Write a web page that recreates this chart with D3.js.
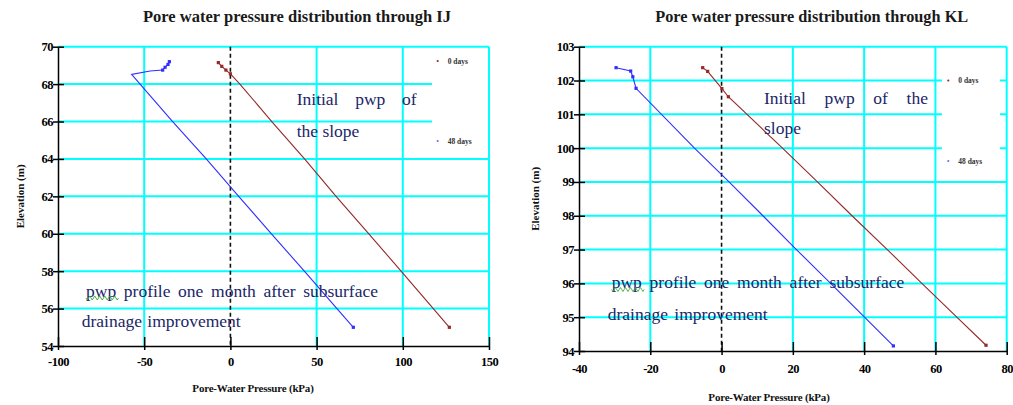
<!DOCTYPE html>
<html><head><meta charset="utf-8">
<script src="https://cdn.jsdelivr.net/npm/d3@7"></script>
<style>body{margin:0;background:#fff} svg{display:block}</style>
</head><body>
<svg id="c" width="1013" height="405"></svg>
<script>
// ---------------- data ----------------
const pressureIJ0 = [-7, -5, -2.6, 0, 5.5, 24, 43, 61.3, 80.3, 99, 117.7, 127];
const elevIJ0     = [69.15, 68.95, 68.75, 68.55, 68.0, 66.0, 64.0, 62.0, 60.0, 58.0, 56.0, 55.0];
const pressureIJ48 = [-35.4, -36.2, -37.9, -39.3, -46.6, -57.3, -52.4, -33.5, -14, 4.8, 23.8, 42.9, 61.8, 71.3];
const elevIJ48     = [69.2, 69.05, 68.9, 68.75, 68.7, 68.52, 68.0, 66.0, 64.0, 62.0, 60.0, 58.0, 56.0, 55.0];

const pressureKL0 = [-5.3, -3.9, 0.1, 1.9, 17.1, 26.9, 36.6, 46.5, 56.2, 66, 74.2];
const elevKL0     = [102.38, 102.27, 101.76, 101.52, 100, 99, 98, 97, 96, 95, 94.17];
const pressureKL48 = [-29.6, -25.5, -24.9, -24.0, -7.6, 2.1, 11.6, 21.0, 30.6, 40.1, 48.2];
const elevKL48     = [102.38, 102.28, 102.11, 101.77, 100, 99, 98, 97, 96, 95, 94.15];

const xTicksIJ = [-100, -50, 0, 50, 100, 150];
const yTicksIJ = [54, 56, 58, 60, 62, 64, 66, 68, 70];
const xTicksKL = [-40, -20, 0, 20, 40, 60, 80];
const yTicksKL = [94, 95, 96, 97, 98, 99, 100, 101, 102, 103];

const seriesNames = ["0 days", "48 days"];
const titles = ["Pore water pressure distribution through IJ", "Pore water pressure distribution through KL"];
const xLabel = "Pore-Water Pressure (kPa)";
const yLabel = "Elevation (m)";
const noteTopIJ = ["Initial pwp of", "the slope"];
const noteTopKL = ["Initial pwp of the", "slope"];
const noteBottom = ["pwp profile one month after subsurface", "drainage improvement"];

// ---------------- styles ----------------
const C_CYAN = "#00ffff", C_BROWN = "#962828", C_BLUE = "#2f2fff", C_NOTE = "#1b2668";
const SERIF = "'Liberation Serif','Times New Roman',serif";

const svg = d3.select("#c");

const panels = [
  { title: titles[0], titleX: 297, titleW: 308, left: 58, right: 489, top: 46.7, bottom: 346,
    xDom: [-100, 150], yDom: [54, 70], xTicks: xTicksIJ, yTicks: yTicksIJ,
    s0: [pressureIJ0, elevIJ0], s48: [pressureIJ48, elevIJ48],
    legendRect: [432, 52, 56, 98], leg0: [437.7, 61], leg48: [437.7, 141],
    yLabX: 20, xLabY: 392, xLabX: 253, tickLabY: 11,
    noteTop: noteTopIJ, noteTopX: 296.7, noteTopY: [105, 137], noteTopW: [120, null],
    noteBotX: [86, 81.7], noteBotY: [296.5, 327.3], noteBotW: [292, 159] },
  { title: titles[1], titleX: 811.7, titleW: 313, left: 579, right: 1006.7, top: 46.7, bottom: 351,
    xDom: [-40, 80], yDom: [94, 103], xTicks: xTicksKL, yTicks: yTicksKL,
    s0: [pressureKL0, elevKL0], s48: [pressureKL48, elevKL48],
    legendRect: [942, 56, 58, 120], leg0: [948.3, 80.5], leg48: [948.3, 161],
    yLabX: 535, xLabY: 400.5, xLabX: 769, tickLabY: 12.8,
    noteTop: noteTopKL, noteTopX: 764, noteTopY: [104, 134], noteTopW: [164, null],
    noteBotX: [611.7, 607.7], noteBotY: [288, 320], noteBotW: [292.6, 160] }
];

function justify(t, w) {
  if (!w) return;
  const txt = t.text();
  const n = (txt.match(/ /g) || []).length;
  const len = t.node().getComputedTextLength();
  if (n > 0 && w > len) t.attr("word-spacing", (w - len) / n);
}

panels.forEach(p => {
  const x = d3.scaleLinear().domain(p.xDom).range([p.left, p.right]);
  const y = d3.scaleLinear().domain(p.yDom).range([p.bottom, p.top]);
  const g = svg.append("g");

  // horizontal grid
  g.selectAll(".hg").data(p.yTicks.filter(v => v !== p.yDom[0])).enter().append("line")
    .attr("x1", p.left).attr("x2", p.right).attr("y1", d => y(d)).attr("y2", d => y(d))
    .attr("stroke", C_CYAN).attr("stroke-width", 2);
  // legend box (white)
  g.append("rect").attr("x", p.legendRect[0]).attr("y", p.legendRect[1])
    .attr("width", p.legendRect[2]).attr("height", p.legendRect[3]).attr("fill", "#fff");
  // vertical grid
  g.selectAll(".vg").data(p.xTicks.filter(v => v !== p.xDom[0] && v !== 0)).enter().append("line")
    .attr("x1", d => x(d)).attr("x2", d => x(d)).attr("y1", p.top).attr("y2", p.bottom)
    .attr("stroke", C_CYAN).attr("stroke-width", 2);
  // zero dashed line
  g.append("line").attr("x1", x(0)).attr("x2", x(0)).attr("y1", p.top).attr("y2", p.bottom)
    .attr("stroke", "#111").attr("stroke-width", 1.6).attr("stroke-dasharray", "4,3");

  // series
  const line = d3.line().x(d => x(d[0])).y(d => y(d[1]));
  [[p.s0, C_BROWN], [p.s48, C_BLUE]].forEach(([s, col]) => {
    const pts = s[0].map((v, i) => [v, s[1][i]]);
    g.append("path").datum(pts).attr("d", line).attr("fill", "none")
      .attr("stroke", col).attr("stroke-width", 1.1);
    const mk = pts.filter((d, i) => i < 4 || i === pts.length - 1);
    g.selectAll(null).data(mk).enter().append("rect")
      .attr("x", d => x(d[0]) - 1.6).attr("y", d => y(d[1]) - 1.6)
      .attr("width", 3.2).attr("height", 3.2).attr("fill", col);
  });

  // axes
  const ax = g.append("g").attr("transform", `translate(0,${p.bottom})`)
    .call(d3.axisBottom(x).tickValues(p.xTicks).tickFormat(d => String(d)).tickSizeInner(4).tickSizeOuter(0));
  ax.selectAll(".tick line").attr("y1", -9).attr("stroke", "#000").attr("stroke-width", 1.5);
  ax.selectAll(".tick text").attr("y", p.tickLabY).attr("font-family", SERIF).attr("font-weight", "bold")
    .attr("font-size", 12.5).attr("letter-spacing", -0.5).attr("fill", "#000");
  ax.select(".domain").attr("stroke", "#000").attr("stroke-width", 1.5);

  const ay = g.append("g").attr("transform", `translate(${p.left},0)`)
    .call(d3.axisLeft(y).tickValues(p.yTicks).tickFormat(d => String(d)).tickSizeInner(5).tickSizeOuter(0));
  ay.selectAll(".tick line").attr("x2", -5).attr("x1", 6).attr("stroke", "#000").attr("stroke-width", 1.5);
  ay.selectAll(".tick text").attr("x", -5).attr("font-family", SERIF).attr("font-weight", "bold")
    .attr("font-size", 12.5).attr("letter-spacing", -0.5).attr("fill", "#000");
  ay.select(".domain").attr("stroke", "#000").attr("stroke-width", 1.5);

  // title
  g.append("text").attr("x", p.titleX).attr("y", 21.5).attr("text-anchor", "middle")
    .attr("font-family", SERIF).attr("font-weight", "bold").attr("font-size", 16.5)
    .attr("fill", "#1a1a1a").attr("textLength", p.titleW).attr("lengthAdjust", "spacingAndGlyphs")
    .text(p.title);

  // axis titles
  g.append("text").attr("transform", `translate(${p.yLabX},${(p.top + p.bottom) / 2}) rotate(-90)`)
    .attr("text-anchor", "middle").attr("dy", "0.35em").attr("font-family", SERIF)
    .attr("font-weight", "bold").attr("font-size", 11).attr("fill", "#111").text(yLabel);
  g.append("text").attr("x", p.xLabX).attr("y", p.xLabY).attr("text-anchor", "middle")
    .attr("font-family", SERIF).attr("font-weight", "bold").attr("font-size", 11)
    .attr("letter-spacing", -0.2).attr("fill", "#111").text(xLabel);

  // legend
  [[p.leg0, seriesNames[0], C_BROWN], [p.leg48, seriesNames[1], "#6b6bff"]].forEach(([pos, name, col]) => {
    g.append("circle").attr("cx", pos[0]).attr("cy", pos[1]).attr("r", 1.1).attr("fill", col);
    g.append("text").attr("x", pos[0] + 10).attr("y", pos[1] + 2.5).attr("font-family", SERIF)
      .attr("font-weight", "bold").attr("font-size", 7.5).attr("fill", "#333").text(name);
  });

  // annotations
  p.noteTop.forEach((s, i) => {
    const t = g.append("text").attr("x", p.noteTopX).attr("y", p.noteTopY[i])
      .attr("font-family", SERIF).attr("font-size", 17.5).attr("fill", C_NOTE).text(s);
    justify(t, p.noteTopW[i]);
  });
  noteBottom.forEach((s, i) => {
    const t = g.append("text").attr("x", p.noteBotX[i]).attr("y", p.noteBotY[i])
      .attr("font-family", SERIF).attr("font-size", 17.5).attr("fill", C_NOTE).text(s);
    justify(t, p.noteBotW[i]);
    if (i === 0) {
      // spell-check squiggle under "pwp"
      const w = t.node().getSubStringLength(0, 3);
      const x0 = p.noteBotX[0], yb = p.noteBotY[0] + 1.5;
      let d = `M${x0},${yb}`;
      for (let k = 0; k * 2.5 < w; k++) d += ` l1.25,${k % 2 ? -2 : 2} l1.25,${k % 2 ? 2 : -2}`;
      g.append("path").attr("d", d).attr("fill", "none").attr("stroke", "#3aa53a").attr("stroke-width", 0.9);
    }
  });
});
</script>
</body></html>
